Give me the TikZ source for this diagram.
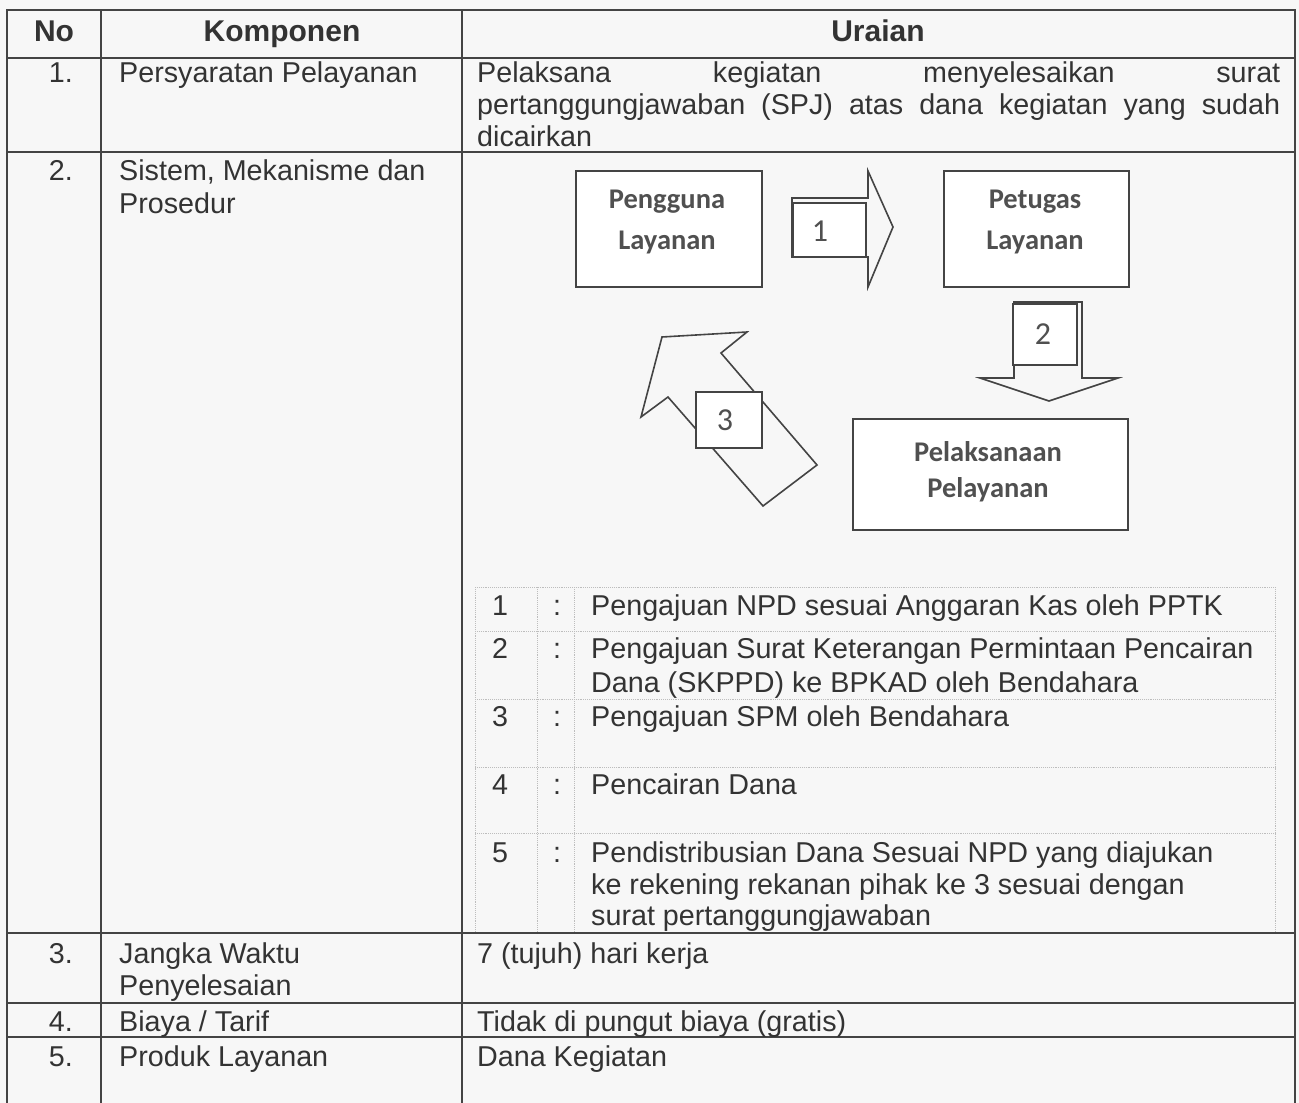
\documentclass[tikz,border=0pt]{standalone}
\usepackage{fontspec}
\setmainfont{Liberation Sans}
\newfontfamily\boxfont{Carlito}
\definecolor{ink}{HTML}{333333}
\definecolor{rule}{HTML}{444444}
\definecolor{dotc}{HTML}{BDBDBD}
\definecolor{boxink}{HTML}{505050}
\definecolor{paper}{HTML}{F7F7F7}
\begin{document}
\begin{tikzpicture}[x=1pt,y=-1pt,
  txt/.style={inner sep=0pt, text=ink, font=\fontsize{28.7}{32}\selectfont},
  hdr/.style={inner sep=0pt, text=ink, font=\fontsize{30}{34}\selectfont\bfseries},
  tbl/.style={draw=rule, line width=1.6pt},
  itbl/.style={draw=dotc, line width=0.9pt, densely dotted},
  flowbox/.style={draw=rule, line width=1.8pt, fill=white, inner sep=0pt},
  flowtxt/.style={inner sep=0pt, text=boxink, font=\boxfont\bfseries\fontsize{28.5}{34}\selectfont},
  numbox/.style={draw=rule, line width=1.6pt, fill=white, inner sep=0pt},
  numtxt/.style={text=boxink, font=\boxfont\fontsize{32}{34}\selectfont},
  bigarrow/.style={draw=rule, line width=1.6pt, line join=miter}
]
\useasboundingbox (0,0) rectangle (1299,1103);
\fill[paper] (0,0) rectangle (1299,1103);

% ---------- outer table ----------
\draw[tbl] (7,1103) -- (7,10) -- (1295,10) -- (1295,1103);
\draw[tbl] (101,10) -- (101,1103);
\draw[tbl] (462,10) -- (462,1103);
\foreach \yy in {58,152,933,1003,1037}{\draw[tbl] (7,\yy) -- (1295,\yy);}

% ---------- inner table ----------
\foreach \yy in {587,631,699,767,833}{\draw[itbl] (475,\yy) -- (1275,\yy);}
\foreach \xx in {475,537,574,1275}{\draw[itbl] (\xx,587) -- (\xx,932);}

% ---------- header ----------
\node[hdr, anchor=base] (hno) at (54,41) {No};
\node[hdr, anchor=base] (hkomp) at (282,41) {Komponen};
\node[hdr, anchor=base] (hur) at (878,41) {Uraian};

% ---------- row 1 ----------
\node[txt, anchor=base east] (n1) at (73,82) {1.};
\node[txt, anchor=base west] (k1) at (119,82) {Persyaratan Pelayanan};
\node[txt, anchor=base west] (u1a) at (477,82) {\makebox[803pt][s]{Pelaksana kegiatan menyelesaikan surat}};
\node[txt, anchor=base west] (u1b) at (477,114) {\makebox[803pt][s]{pertanggungjawaban (SPJ) atas dana kegiatan yang sudah}};
\node[txt, anchor=base west] (u1c) at (477,146) {dicairkan};

% ---------- row 2 ----------
\node[txt, anchor=base east] (n2) at (73,180) {2.};
\node[txt, anchor=base west] (k2a) at (119,180) {Sistem, Mekanisme dan};
\node[txt, anchor=base west] (k2b) at (119,213) {Prosedur};

% inner list
\node[txt, anchor=base] (i1n) at (500,615) {1};
\node[txt, anchor=base] (i1c) at (557,615) {:};
\node[txt, anchor=base west] (i1t) at (591,615) {Pengajuan NPD sesuai Anggaran Kas oleh PPTK};
\node[txt, anchor=base] (i2n) at (500,658) {2};
\node[txt, anchor=base] (i2c) at (557,658) {:};
\node[txt, anchor=base west] (i2t) at (591,658) {Pengajuan Surat Keterangan Permintaan Pencairan};
\node[txt, anchor=base west] (i2u) at (591,692) {Dana (SKPPD) ke BPKAD oleh Bendahara};
\node[txt, anchor=base] (i3n) at (500,726) {3};
\node[txt, anchor=base] (i3c) at (557,726) {:};
\node[txt, anchor=base west] (i3t) at (591,726) {Pengajuan SPM oleh Bendahara};
\node[txt, anchor=base] (i4n) at (500,794) {4};
\node[txt, anchor=base] (i4c) at (557,794) {:};
\node[txt, anchor=base west] (i4t) at (591,794) {Pencairan Dana};
\node[txt, anchor=base] (i5n) at (500,862) {5};
\node[txt, anchor=base] (i5c) at (557,862) {:};
\node[txt, anchor=base west] (i5t) at (591,862) {Pendistribusian Dana Sesuai NPD yang diajukan};
\node[txt, anchor=base west] (i5u) at (591,894) {ke rekening rekanan pihak ke 3 sesuai dengan};
\node[txt, anchor=base west] (i5v) at (591,925) {surat pertanggungjawaban};

% ---------- row 3 ----------
\node[txt, anchor=base east] (n3) at (73,963) {3.};
\node[txt, anchor=base west] (k3a) at (119,963) {Jangka Waktu};
\node[txt, anchor=base west] (k3b) at (119,995) {Penyelesaian};
\node[txt, anchor=base west] (u3) at (477,963) {7 (tujuh) hari kerja};

% ---------- row 4 ----------
\node[txt, anchor=base east] (n4) at (73,1031) {4.};
\node[txt, anchor=base west] (k4) at (119,1031) {Biaya / Tarif};
\node[txt, anchor=base west] (u4) at (477,1031) {Tidak di pungut biaya (gratis)};

% ---------- row 5 ----------
\node[txt, anchor=base east] (n5) at (73,1066) {5.};
\node[txt, anchor=base west] (k5) at (119,1066) {Produk Layanan};
\node[txt, anchor=base west] (u5) at (477,1066) {Dana Kegiatan};

% ---------- flow diagram ----------
\node[flowbox, minimum width=186pt, minimum height=116pt] (peng) at (669,229) {};
\node[flowtxt, anchor=base] (pengA) at (667,208) {Pengguna};
\node[flowtxt, anchor=base] (pengB) at (667,249) {Layanan};

\node[flowbox, minimum width=185pt, minimum height=116pt] (petu) at (1036.5,229) {};
\node[flowtxt, anchor=base] (petuA) at (1035,208) {Petugas};
\node[flowtxt, anchor=base] (petuB) at (1035,249) {Layanan};

\node[flowbox, minimum width=275pt, minimum height=111pt] (pela) at (990.5,474.5) {};
\node[flowtxt, anchor=base] (pelaA) at (988,461) {Pelaksanaan};
\node[flowtxt, anchor=base] (pelaB) at (988,497) {Pelayanan};

% arrow 1
\draw[bigarrow] (792,198) -- (868,198) -- (868,171) -- (893,227) -- (868,287) -- (868,257) -- (792,257) -- cycle;
\node[numbox, minimum width=73pt, minimum height=54pt] (b1) at (829.5,230) {};
\node[numtxt] (l1) at (820,231) {1};

% arrow 2
\draw[bigarrow] (1014,302) -- (1082,302) -- (1082,378) -- (1118,378) -- (1049,401) -- (980,378) -- (1014,378) -- cycle;
\node[numbox, minimum width=64pt, minimum height=61pt] (b2) at (1045,334.5) {};
\node[numtxt] (l2) at (1043,334) {2};

% arrow 3
\draw[bigarrow] (662,337) -- (747,332) -- (721,353) -- (817,465) -- (763,506) -- (668,397) -- (641,417) -- cycle;
\node[numbox, minimum width=66pt, minimum height=56pt] (b3) at (729,420) {};
\node[numtxt] (l3) at (725,420) {3};
\end{tikzpicture}
\end{document}
